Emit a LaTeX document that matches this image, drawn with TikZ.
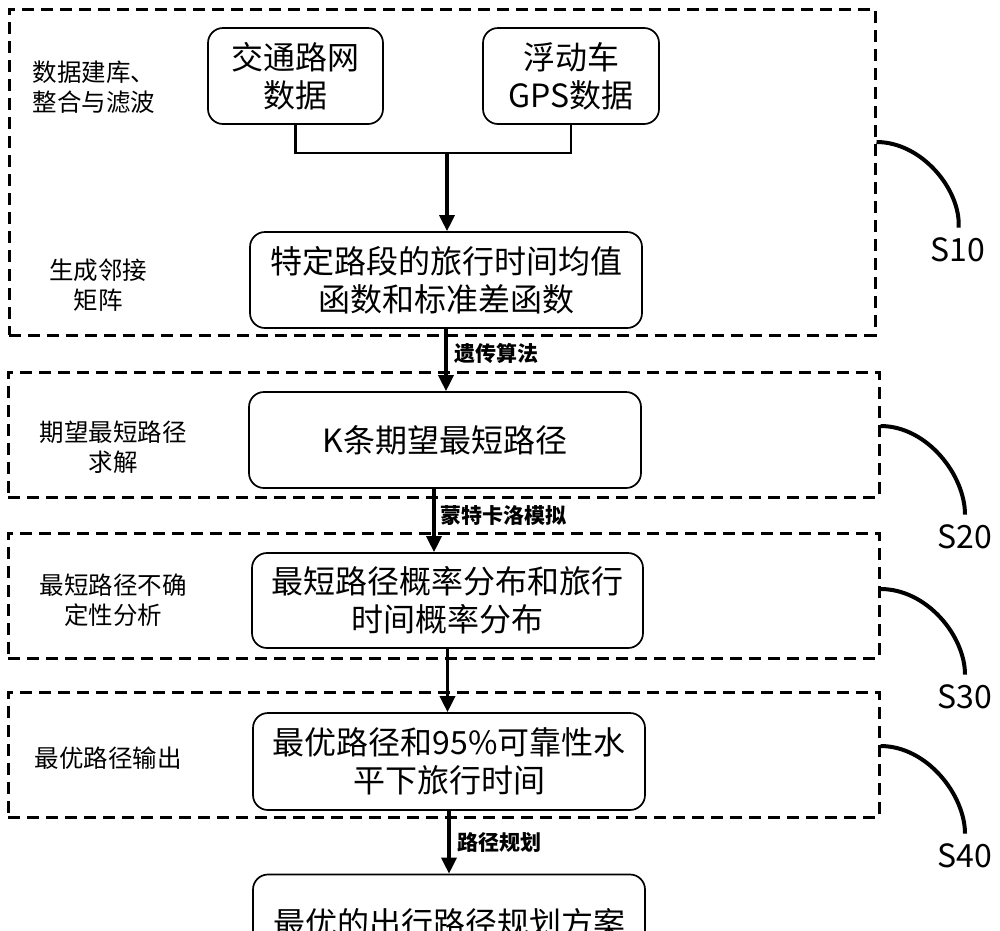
\documentclass[tikz,border=0pt]{standalone}
\usepackage{fontspec}
\setmainfont{Noto Sans CJK SC}
\usetikzlibrary{arrows.meta}
\begin{document}
\begin{tikzpicture}[x=1pt,y=-1pt,
  box/.style={draw, line width=1.7pt, rounded corners=15pt, align=center, inner sep=0pt, font=\fontsize{32}{38}\selectfont},
  dbox/.style={draw, line width=3pt, dash pattern=on 12pt off 7pt, inner sep=0pt},
  side/.style={align=center, inner sep=0pt, font=\fontsize{24.5}{30}\selectfont},
  alab/.style={anchor=west, inner sep=0pt, font=\bfseries\fontsize{21}{24}\selectfont},
  slab/.style={inner sep=0pt, font=\fontsize{32}{36}\selectfont},
  thinline/.style={line width=2.2pt},
  flow/.style={line width=3.5pt, -{Triangle[length=16pt,width=15pt]}},
  hook/.style={line width=4pt, shorten >=10pt},
]
\path[use as bounding box] (0,0) rectangle (1000,930);
\clip (0,0) rectangle (1000,930);

% dashed stage boxes
\node[dbox, minimum width=866pt, minimum height=326pt] (S10box) at (442,172) {};
\node[dbox, minimum width=871pt, minimum height=125pt] (S20box) at (443.5,434.5) {};
\node[dbox, minimum width=871pt, minimum height=125pt] (S30box) at (443.5,595.5) {};
\node[dbox, minimum width=871pt, minimum height=125pt] (S40box) at (443.5,754.5) {};

% side labels
\node[side] (L1) at (94,87) {数据建库、\\整合与滤波};
\node[side] (L2) at (98,285) {生成邻接\\矩阵};
\node[side] (L3) at (113,447) {期望最短路径\\求解};
\node[side] (L4) at (113,600) {最短路径不确\\定性分析};
\node[side] (L5) at (108,758) {最优路径输出};

% main boxes
\node[box, minimum width=175pt, minimum height=96pt] (A) at (295.5,76) {交通路网\\数据};
\node[box, minimum width=176pt, minimum height=96pt] (B) at (571,76) {浮动车\\GPS数据};
\node[box, minimum width=392pt, minimum height=96pt] (C) at (446,280) {特定路段的旅行时间均值\\函数和标准差函数};
\node[box, minimum width=392pt, minimum height=96pt] (D) at (445,440) {K条期望最短路径};
\node[box, minimum width=391pt, minimum height=95pt] (E) at (447.5,600.5) {最短路径概率分布和旅行\\时间概率分布};
\node[box, minimum width=392pt, minimum height=97pt] (F) at (449,761.5) {最优路径和95\%可靠性水\\平下旅行时间};
\node[box, minimum width=392pt, minimum height=97pt] (G) at (449,923) {最优的出行路径规划方案};

% connectors
\coordinate (J) at (447,153);
\draw[thinline] (A.south) |- (J) -| (B.south);
\draw[flow] (J) -- (J |- C.north);
\draw[flow] (C.south) -- (C.south |- D.north);
\draw[flow] ([xshift=-11pt]D.south) -- ([xshift=-11pt]D.south |- E.north);
\draw[flow] (E.south) -- (E.south |- F.north);
\draw[flow] (F.south) -- (F.south |- G.north);

% arrow labels
\node[alab] (T1) at (454,353) {遗传算法};
\node[alab] (T2) at (440,515) {蒙特卡洛模拟};
\node[alab] (T3) at (457,843) {路径规划};

% step labels and hooks
\node[slab] (S10) at (958,250) {S10};
\node[slab] (S20) at (965,537) {S20};
\node[slab] (S30) at (965,697) {S30};
\node[slab] (S40) at (965,856) {S40};

\coordinate (h1) at (S10box.east |- 0,142);
\coordinate (h2) at (S20box.east |- 0,426);
\coordinate (h3) at (S30box.east |- 0,589);
\coordinate (h4) at (S40box.east |- 0,746);
\draw[hook] (h1) .. controls (922,142) and (961,190) .. (S10.north);
\draw[hook] (h2) .. controls (927,426) and (965,475) .. (S20.north);
\draw[hook] (h3) .. controls (927,589) and (965,636) .. (S30.north);
\draw[hook] (h4) .. controls (927,746) and (965,795) .. (S40.north);
\end{tikzpicture}
\end{document}
